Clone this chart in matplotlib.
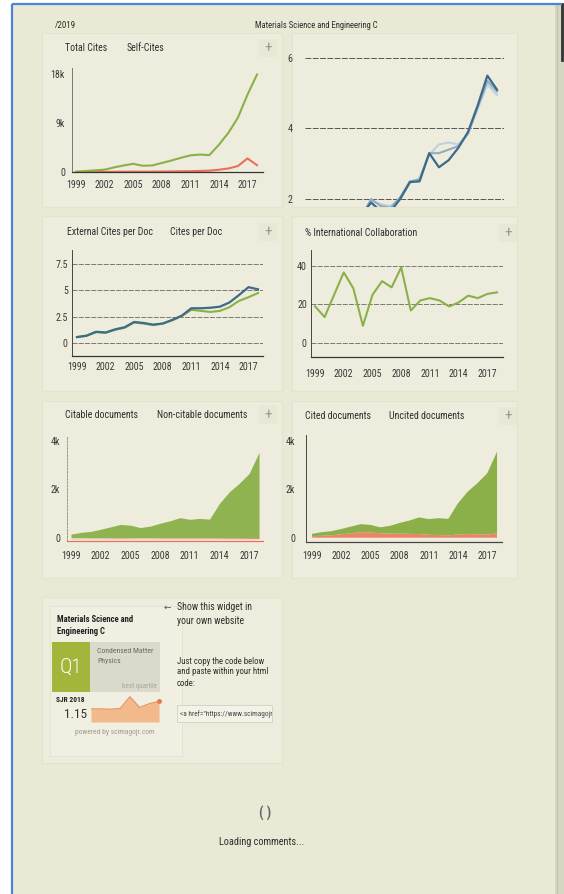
import matplotlib.pyplot as plt
from matplotlib.patches import Rectangle
from matplotlib import font_manager
from matplotlib.ticker import FuncFormatter

W, H = 564, 894

years = list(range(1999, 2019))
year_ticks = list(range(1999, 2018, 3))

total_cites = [60, 180, 300, 430, 850, 1200, 1500, 1150, 1200, 1650,
               2100, 2600, 3050, 3200, 3100, 5000, 7200, 10000, 14200, 17900]
self_cites = [10, 20, 30, 40, 50, 60, 70, 60, 70, 90,
              110, 130, 150, 200, 250, 420, 650, 1100, 2500, 1250]

cpd_4y = [0.6, 0.75, 1.0, 1.1, 1.35, 1.55, 1.9, 1.65, 1.65, 2.0,
          2.48, 2.5, 3.3, 2.9, 3.1, 3.45, 3.9, 4.65, 5.5, 5.1]
cpd_3y = [0.55, 0.7, 0.95, 1.05, 1.3, 1.5, 2.0, 1.8, 1.75, 2.05,
          2.5, 2.55, 3.3, 3.3, 3.4, 3.5, 3.85, 4.6, 5.35, 5.05]
cpd_2y = [0.5, 0.65, 0.9, 1.0, 1.25, 1.45, 1.95, 1.85, 1.8, 2.0,
          2.45, 2.6, 3.25, 3.55, 3.6, 3.55, 3.85, 4.55, 5.25, 4.95]

cites_per_doc = [0.57, 0.7, 1.07, 1.0, 1.3, 1.5, 2.0, 1.9, 1.75, 1.85,
                 2.2, 2.6, 3.3, 3.3, 3.35, 3.45, 3.85, 4.55, 5.3, 5.1]
ext_cites_per_doc = [0.55, 0.68, 1.03, 0.97, 1.25, 1.45, 1.95, 1.85, 1.7, 1.85,
                     2.15, 2.55, 3.15, 3.05, 2.95, 3.05, 3.4, 4.0, 4.35, 4.75]

intl_collab = [19, 13.4, 25, 36.5, 28.3, 8.9, 24.9, 32, 28.8, 39.1,
               16.8, 22, 23.2, 22, 18.9, 21, 24.5, 23.2, 25.4, 26.2]

citable_docs = [150, 220, 260, 350, 450, 550, 520, 420, 480, 600,
                700, 830, 760, 800, 770, 1420, 1900, 2250, 2660, 3530]
non_citable_docs = [10, 12, 15, 15, 20, 20, 20, 15, 15, 20,
                    20, 20, 20, 20, 20, 25, 30, 30, 35, 40]

uncited_docs = [60, 80, 100, 140, 180, 230, 220, 180, 170, 170,
                160, 150, 120, 110, 100, 130, 150, 140, 130, 180]
cited_docs = [100, 150, 170, 220, 280, 330, 310, 250, 320, 440,
              550, 690, 650, 700, 680, 1300, 1760, 2120, 2540, 3380]

sjr_years = list(range(2011, 2019))
sjr_values = [0.93, 0.93, 0.92, 0.94, 1.28, 0.97, 1.08, 1.15]

installed = {f.name for f in font_manager.fontManager.ttflist}
NARROW = 'Roboto'
for name in ['Roboto Condensed', 'Liberation Sans Narrow', 'Open Sans Condensed']:
    if name in installed:
        NARROW = name
        break
plt.rcParams['font.family'] = [NARROW, 'DejaVu Sans']

PAGE = '#eae9d5'
CARD = '#eeeddd'
CARD_EDGE = '#e4e3cf'
BLUE = '#4a86d8'
GREEN = '#8bb04a'
RED = '#e8705c'
DARK_BLUE = '#3c6a89'
MID_BLUE = '#8eadc2'
LIGHT_BLUE = '#c0d1db'
TXT = '#2e2e2e'
TITLE_SIZE = 7.1
TICK_SIZE = 7.2

fig = plt.figure(figsize=(W / 100, H / 100), dpi=100)
fig.patch.set_facecolor('white')
bg = fig.add_axes([0, 0, 1, 1])
bg.set_xlim(0, W)
bg.set_ylim(H, 0)
bg.axis('off')

# page, scanner strip and blue frame
bg.add_patch(Rectangle((12, 4), 546, 890, fc=PAGE, ec='none'))
bg.add_patch(Rectangle((555, 4), 9, 890, fc='#d6d7c2', ec='none'))
bg.plot([557, 557], [4, 894], color='#c3c4ae', lw=0.8)
bg.plot([562, 562], [4, 60], color='#333333', lw=2)
bg.plot([12, 12], [4, 894], color=BLUE, lw=1.6, solid_capstyle='butt')
bg.plot([12, 562], [4, 4], color=BLUE, lw=1.6, solid_capstyle='butt')

# cards
for (x0, y0, x1, y1) in [(42, 33, 282, 207), (292, 33, 517, 207),
                         (42, 216, 282, 391), (292, 216, 517, 391),
                         (42, 401, 282, 578), (292, 401, 517, 578),
                         (42, 597, 282, 763)]:
    bg.add_patch(Rectangle((x0, y0), x1 - x0, y1 - y0, fc=CARD, ec=CARD_EDGE, lw=0.8))

# header
bg.text(55, 25, '/2019', fontsize=6.5, color=TXT, va='center')
bg.text(255, 26, 'Materials Science and Engineering C', fontsize=6.2, color=TXT, va='center')

# chart titles and "+" buttons
titles = [(65, 48, 'Total Cites'), (127, 48, 'Self-Cites'),
          (67, 232, 'External Cites per Doc'), (170, 232, 'Cites per Doc'),
          (305, 233, '% International Collaboration'),
          (65, 415, 'Citable documents'), (157, 415, 'Non-citable documents'),
          (305, 416, 'Cited documents'), (389, 416, 'Uncited documents')]
for x, y, s in titles:
    bg.text(x, y, s, fontsize=TITLE_SIZE, color=TXT, va='center')
for x, y in [(268, 48), (268, 232), (508, 233), (268, 415), (508, 416)]:
    bg.add_patch(Rectangle((x - 9, y - 9), 18, 18, fc='#e9e8d6', ec='none'))
    bg.text(x, y, '+', fontsize=11, color='#9a9a94', ha='center', va='center')


def chart_axes(box, xlim, ylim):
    x0, y0, x1, y1 = box
    ax = fig.add_axes([x0 / W, 1 - y1 / H, (x1 - x0) / W, (y1 - y0) / H])
    ax.set_facecolor('none')
    ax.set_xlim(*xlim)
    ax.set_ylim(*ylim)
    for s in ax.spines.values():
        s.set_visible(False)
    ax.tick_params(length=0, labelsize=TICK_SIZE, colors='#3a3a3a')
    ax.set_xticks(year_ticks)
    return ax


def axis_lines(ax, left_style='-', left_color='#777777', bottom_color='#333333'):
    ax.spines['left'].set_visible(True)
    ax.spines['left'].set_color(left_color)
    ax.spines['left'].set_linewidth(0.7)
    ax.spines['left'].set_linestyle(left_style)
    ax.spines['bottom'].set_visible(True)
    ax.spines['bottom'].set_color(bottom_color)
    ax.spines['bottom'].set_linewidth(0.9)


kfmt = FuncFormatter(lambda v, p: '0' if v == 0 else f'{v / 1000:g}k')

# Total cites / self-cites
ax1 = chart_axes((72, 68, 263, 172), (1998.58, 2018.63), (0, 19100))
axis_lines(ax1, left_style=(0, (3, 1)))
ax1.set_yticks([0, 9000, 18000])
ax1.yaxis.set_major_formatter(kfmt)
ax1.tick_params(axis='y', pad=5)
ax1.tick_params(axis='x', pad=6)
ax1.plot(years, self_cites, color=RED, lw=1.5, clip_on=False)
ax1.plot(years, total_cites, color=GREEN, lw=1.5, clip_on=False)

# Cites per document (cut off at the bottom of the scan)
ax2 = chart_axes((305, 40, 504, 207), (1998.17, 2018.72), (1.773, 6.51))
ax2.set_xticks([])
ax2.set_yticks([2, 4, 6])
ax2.set_yticklabels(['2', '4', '6'])
ax2.tick_params(axis='y', pad=9)
ax2.grid(axis='y', color='#555555', lw=0.7, linestyle=(0, (6, 1.5)))
ax2.plot(years, cpd_2y, color=LIGHT_BLUE, lw=1.5)
ax2.plot(years, cpd_3y, color=MID_BLUE, lw=1.5)
ax2.plot(years, cpd_4y, color=DARK_BLUE, lw=1.6)

# External cites per doc / cites per doc
ax3 = chart_axes((72, 250, 263, 356), (1998.475, 2018.525), (-1.23, 8.83))
axis_lines(ax3, left_style=(0, (3, 1)), left_color='#444444')
ax3.set_yticks([0, 2.5, 5, 7.5])
ax3.set_yticklabels(['0', '2.5', '5', '7.5'])
ax3.tick_params(axis='y', pad=3)
ax3.tick_params(axis='x', pad=4.3)
ax3.grid(axis='y', color='#666666', lw=0.6, linestyle=(0, (6, 1.5)))
ax3.plot(years, ext_cites_per_doc, color=GREEN, lw=1.5)
ax3.plot(years, cites_per_doc, color=DARK_BLUE, lw=1.6)

# % International collaboration
ax4 = chart_axes((311, 250, 503, 357), (1998.58, 2018.63), (-7.24, 48.1))
axis_lines(ax4, left_style=(0, (3, 1)), left_color='#444444')
ax4.set_yticks([0, 20, 40])
ax4.tick_params(axis='y', pad=3)
ax4.tick_params(axis='x', pad=8.4)
ax4.grid(axis='y', color='#666666', lw=0.6, linestyle=(0, (6, 1.5)))
ax4.plot(years, intl_collab, color=GREEN, lw=1.5)

# Citable / non-citable documents
ax5 = chart_axes((67, 437, 263, 541), (1998.6, 2018.4), (-136, 4165))
axis_lines(ax5, left_style=(0, (2, 1.5)), left_color='#9a9a90', bottom_color=RED)
ax5.set_yticks([0, 2000, 4000])
ax5.yaxis.set_major_formatter(kfmt)
ax5.tick_params(axis='y', pad=5)
ax5.tick_params(axis='x', pad=6.9)
ax5.fill_between(years, 0, citable_docs, color=GREEN, lw=0, alpha=0.95)
ax5.fill_between(years, -40, [-40 + v for v in non_citable_docs], color=RED, lw=0)

# Cited / uncited documents
ax6 = chart_axes((306, 435, 502, 542), (1998.38, 2018.51), (-178, 4250))
axis_lines(ax6, left_color='#444444', bottom_color='#444444')
ax6.set_yticks([0, 2000, 4000])
ax6.yaxis.set_major_formatter(kfmt)
ax6.tick_params(axis='y', pad=8)
ax6.tick_params(axis='x', pad=6.2)
ax6.stackplot(years, uncited_docs, cited_docs, colors=['#ec8468', GREEN], lw=0)

# widget
bg.add_patch(Rectangle((50, 606), 132, 150, fc='#f0efe2', ec='#e4e3d0', lw=0.6))
bg.text(57, 620, 'Materials Science and', fontsize=6.2, fontweight='bold', color='#222222', va='center')
bg.text(57, 631, 'Engineering C', fontsize=6.2, fontweight='bold', color='#222222', va='center')
bg.add_patch(Rectangle((52, 642), 38, 50, fc='#a3b53a', ec='none'))
bg.add_patch(Rectangle((90, 642), 70, 50, fc='#dbd8cc', ec='none'))
bg.text(71, 667, 'Q1', fontsize=15, color='white', ha='center', va='center', fontweight='light')
bg.text(97, 651, 'Condensed Matter', fontsize=5.6, color='#6b6b66', va='center')
bg.text(97, 661, 'Physics', fontsize=5.6, color='#6b6b66', va='center')
bg.text(157, 686, 'best quartile', fontsize=5.0, color='#a9a79d', ha='right', va='center')
bg.text(56, 700, 'SJR 2018', fontsize=5.3, fontweight='bold', color='#222222', va='center')
bg.text(64, 714, '1.15', fontsize=9.5, color='#333333', va='center')
bg.text(115, 733, 'powered by scimagojr.com', fontsize=5.4, color='#9b9b94', ha='center', va='center')

axs = fig.add_axes([91 / W, 1 - 722 / H, 69 / W, 28 / H])
axs.set_facecolor('none')
axs.axis('off')
axs.set_xlim(sjr_years[0], sjr_years[-1] + 0.1)
axs.set_ylim(0.55, 1.36)
axs.fill_between(sjr_years, 0.55, sjr_values, color='#f2b98c', lw=0)
axs.plot(sjr_years, sjr_values, color='#ea9563', lw=0.9)
axs.plot(sjr_years[-1], sjr_values[-1], 'o', color='#e9774f', ms=2.5, clip_on=False)

bg.text(164, 607, '\u2190', fontsize=6.5, color='#555555', va='center')
bg.text(177, 607, 'Show this widget in', fontsize=7.0, color=TXT, va='center')
bg.text(177, 621, 'your own website', fontsize=7.0, color=TXT, va='center')
bg.text(177, 661, 'Just copy the code below', fontsize=6.3, color=TXT, va='center')
bg.text(177, 672, 'and paste within your html', fontsize=6.3, color=TXT, va='center')
bg.text(177, 683, 'code:', fontsize=6.3, color=TXT, va='center')
box = Rectangle((177, 705), 95, 17, fc='#f3f2e6', ec='#d2d1bf', lw=0.6)
bg.add_patch(box)
code = bg.text(180, 714, '<a href="https://www.scimagojr.com', fontsize=5.2,
               color='#444444', va='center', clip_on=True)
code.set_clip_path(box)

# loading comments
bg.text(265, 813, '( )', fontsize=10, color='#666666', ha='center', va='center', fontweight='bold')
bg.text(262, 842, 'Loading comments...', fontsize=7.4, color=TXT, ha='center', va='center')

fig.savefig('out.png', dpi=100, facecolor=fig.get_facecolor())
